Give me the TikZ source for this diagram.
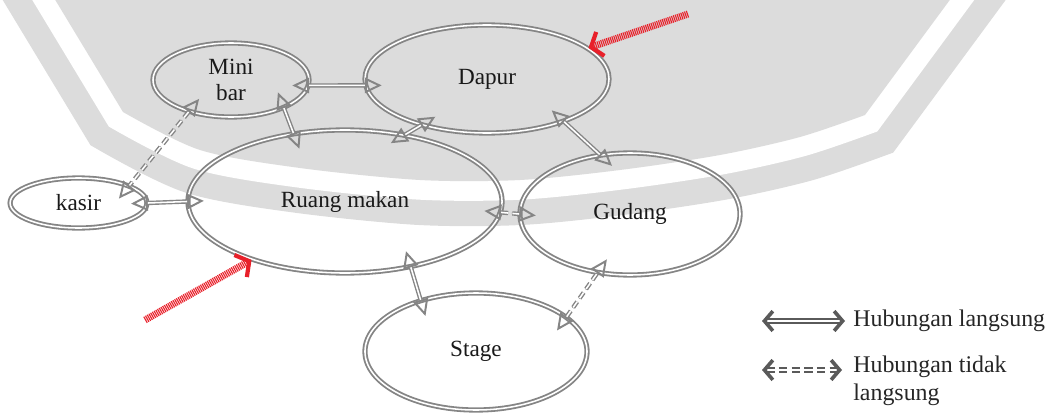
\documentclass[tikz,border=0pt]{standalone}
\usepackage{fontspec}
\setmainfont{Liberation Serif}
\usetikzlibrary{shapes.geometric,arrows.meta}

\definecolor{bggrey}{HTML}{DCDCDC}
\definecolor{linegrey}{HTML}{858585}
\definecolor{keygrey}{HTML}{5A5A5A}
\definecolor{hatchred}{HTML}{E8202A}

\tikzset{
  room/.style={ellipse,draw=linegrey,double=white,double distance=1.1pt,line width=1.3pt,
    inner sep=0pt,text=black!90,font=\fontsize{16.5}{18}\selectfont},
  tipline/.style={draw=linegrey,line width=1.4pt,
    {Triangle[open,length=12pt,width=11pt]}-{Triangle[open,length=12pt,width=11pt]},
    shorten <=-12pt,shorten >=-12pt},
  link/.style={draw=linegrey,double=white,double distance=1.1pt,line width=1pt},
  ilink/.style={link,dash pattern=on 5pt off 3pt},
  pointer/.style={hatchred,line width=5pt,dash pattern=on 0.8pt off 0.6pt,
    -{Straight Barb[length=7pt,width=18pt,line width=3pt]}},
  keyarrow/.style={draw=keygrey,double=white,double distance=1.3pt,line width=1.3pt,
    {Straight Barb[length=6pt,width=14pt,line width=2.6pt]}-{Straight Barb[length=6pt,width=14pt,line width=2.6pt]}},
  keytext/.style={anchor=west,align=left,inner sep=0pt,text=black!85,
    font=\fontsize{17}{20}\selectfont}
}

\begin{document}
\begin{tikzpicture}[x=0.025cm,y=-0.025cm]
    \useasboundingbox (0,0) rectangle (1047,414);

    % background shield
    \begin{scope}
        \clip (0,0) rectangle (1047,414);
        \path[fill=bggrey,line join=miter,
            preaction={draw=bggrey,line width=64pt},
            preaction={draw=white,line width=28pt}]
            (19,-60) -- plot[smooth] coordinates {(123,112) (200,150) (300,168) (420,180)
            (520,180) (620,170) (720,155) (800,137) (865,115)} -- (994,-60) -- cycle;
    \end{scope}

    % rooms
    \node[room,minimum width=3.9cm,minimum height=1.85cm,align=center] (mini) at (231,80) {Mini\\bar};
    \node[room,minimum width=6.1cm,minimum height=2.7cm] (dapur) at (487,79) {Dapur};
    \node[room,minimum width=3.42cm,minimum height=1.25cm] (kasir) at (78.5,203) {kasir};
    \node[room,minimum width=7.85cm,minimum height=3.575cm] (ruang) at (345,201.5) {Ruang makan};
    \node[room,minimum width=5.5cm,minimum height=3.05cm] (gudang) at (630,214) {Gudang};
    \node[room,minimum width=5.55cm,minimum height=2.925cm] (stage) at (476,351.5) {Stage};

    % direct links
    \foreach \a/\b in {mini.-4/dapur.183, mini.-28/ruang.127, dapur.215/ruang.48,
                       dapur.-29/gudang.117, kasir.east/ruang.west, ruang.-45/stage.137} {
        \draw[tipline] (\a) -- (\b);
        \draw[link] (\a) -- (\b);
    }

    % indirect links
    \foreach \a/\b in {mini.217/kasir.19, ruang.-4/gudang.west, stage.21/gudang.241} {
        \draw[tipline,dash pattern=on 5pt off 3pt] (\a) -- (\b);
        \draw[ilink] (\a) -- (\b);
    }

    % red pointers
    \coordinate (p1) at (688,14);
    \coordinate (p2) at (145,320);
    \draw[pointer] (p1) -- (dapur.17);
    \draw[pointer] (p2) -- (ruang.212);

    % legend
    \coordinate (k1a) at (762,321);
    \coordinate (k1b) at (845,321);
    \coordinate (k2a) at (762,370);
    \coordinate (k2b) at (842,370);
    \draw[keyarrow] (k1a) -- (k1b);
    \draw[keyarrow,dash pattern=on 6pt off 3pt] (k2a) -- (k2b);
    \node[keytext] (key1) at (853,321) {Hubungan langsung};
    \node[keytext,anchor=north west] (key2) at (853,356) {Hubungan tidak\\langsung};
\end{tikzpicture}
\end{document}
